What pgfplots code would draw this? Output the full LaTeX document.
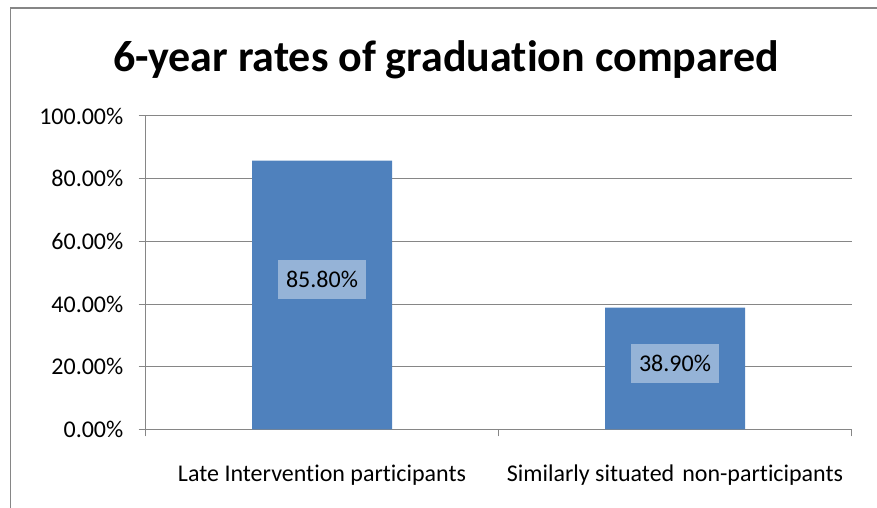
\documentclass[border=0pt]{standalone}
\usepackage{pgfplots}
\pgfplotsset{compat=1.18}
\usepackage{fontspec}
\setmainfont{Carlito}[Ligatures={NoCommon,NoDiscretionary,NoContextual}]
\definecolor{barblue}{HTML}{4F81BD}
\definecolor{lblblue}{HTML}{95B3D7}
\definecolor{gridgray}{HTML}{868686}
\begin{document}
\begin{tikzpicture}
\useasboundingbox (0pt,0pt) rectangle (877pt,508pt);
\draw[gridgray, line width=1.3pt] (10.5pt,0pt) -- (10.5pt,500pt) -- (877pt,500pt);
\node[font=\bfseries\fontsize{44}{52}\selectfont, anchor=base, inner sep=0pt] at (446pt,436.3pt) {6-year rates of graduation compared};
\begin{axis}[
  at={(145.5pt,78.5pt)}, anchor=south west,
  scale only axis, width=706pt, height=313.5pt,
  xmin=-0.5, xmax=1.5, ymin=0, ymax=100,
  axis x line*=bottom, axis y line*=left,
  axis line style={-, gridgray, line width=1pt},
  ytick={0,20,40,60,80,100},
  yticklabels={0.00\%,20.00\%,40.00\%,60.00\%,80.00\%,100.00\%},
  ymajorgrids, grid style={gridgray, line width=1pt},
  tick align=outside, major tick length=7pt,
  tick style={gridgray, line width=1pt},
  ticklabel style={font=\fontsize{24}{28}\selectfont, text=black},
  yticklabel style={inner sep=0pt, xshift=-15pt},
  xtick={-0.5,0.5,1.5}, xticklabels={},
  extra x ticks={0,1},
  extra x tick labels={Late Intervention participants, Similarly situated\hspace{8pt}non-participants},
  extra x tick style={major tick length=0pt, xticklabel style={anchor=base, inner sep=0pt, yshift=-52pt}},
]
\addplot[ybar, bar width=140pt, fill=barblue, draw=none] coordinates {(0,85.8) (1,38.9)};
\addplot[only marks, mark=none, nodes near coords, point meta=explicit symbolic,
  every node near coord/.append style={anchor=center, fill=lblblue, text=black,
    font=\fontsize{24}{28}\selectfont, inner xsep=8pt, inner ysep=0pt, minimum height=39pt}]
  coordinates {(0,47.8)[85.80\%] (1,21.2)[38.90\%]};
\end{axis}
\end{tikzpicture}
\end{document}
